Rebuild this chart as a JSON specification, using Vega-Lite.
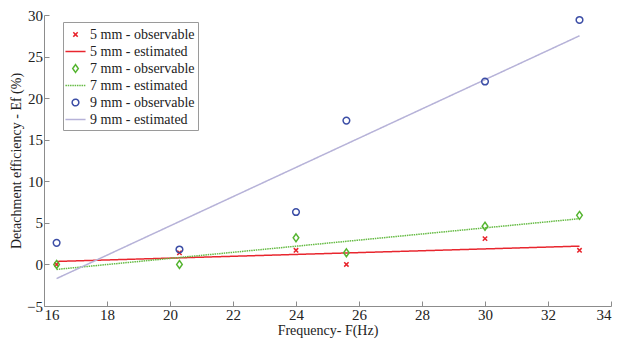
{
  "$schema": "https://vega.github.io/schema/vega-lite/v6.json",
  "width": 567,
  "height": 291,
  "autosize": {"type": "none"},
  "padding": {"left": 44, "top": 15, "right": 16, "bottom": 33},
  "background": "white",
  "config": {
    "view": {"stroke": null},
    "font": "Liberation Serif, Times New Roman, serif",
    "axis": {
      "grid": false,
      "domainColor": "#8c8c8c",
      "tickColor": "#8c8c8c",
      "tickSize": -5,
      "labelFont": "Liberation Serif, Times New Roman, serif",
      "labelFontSize": 15,
      "labelColor": "#222222",
      "titleFont": "Liberation Serif, Times New Roman, serif",
      "titleFontSize": 14,
      "titleFontWeight": "normal",
      "titleColor": "#222222"
    }
  },
  "datasets": {
    "obs": [
      {"series": "5 mm - observable", "freq": 16.4, "ef": 0.0},
      {"series": "5 mm - observable", "freq": 20.3, "ef": 1.4},
      {"series": "5 mm - observable", "freq": 24.0, "ef": 1.7},
      {"series": "5 mm - observable", "freq": 25.6, "ef": 0.0},
      {"series": "5 mm - observable", "freq": 30.0, "ef": 3.1},
      {"series": "5 mm - observable", "freq": 33.0, "ef": 1.7},
      {"series": "7 mm - observable", "freq": 16.4, "ef": 0.0},
      {"series": "7 mm - observable", "freq": 20.3, "ef": 0.0},
      {"series": "7 mm - observable", "freq": 24.0, "ef": 3.2},
      {"series": "7 mm - observable", "freq": 25.6, "ef": 1.4},
      {"series": "7 mm - observable", "freq": 30.0, "ef": 4.6},
      {"series": "7 mm - observable", "freq": 33.0, "ef": 5.9},
      {"series": "9 mm - observable", "freq": 16.4, "ef": 2.6},
      {"series": "9 mm - observable", "freq": 20.3, "ef": 1.8},
      {"series": "9 mm - observable", "freq": 24.0, "ef": 6.3},
      {"series": "9 mm - observable", "freq": 25.6, "ef": 17.3},
      {"series": "9 mm - observable", "freq": 30.0, "ef": 22.0},
      {"series": "9 mm - observable", "freq": 33.0, "ef": 29.4}
    ],
    "est": [
      {"series": "5 mm - estimated", "freq": 16.4, "ef": 0.36},
      {"series": "5 mm - estimated", "freq": 33.0, "ef": 2.2},
      {"series": "7 mm - estimated", "freq": 16.4, "ef": -0.6},
      {"series": "7 mm - estimated", "freq": 33.0, "ef": 5.5},
      {"series": "9 mm - estimated", "freq": 16.4, "ef": -1.7},
      {"series": "9 mm - estimated", "freq": 33.0, "ef": 27.5}
    ]
  },
  "layer": [
    {
      "data": {"name": "est"},
      "mark": {"type": "line", "strokeWidth": 1.5},
      "encoding": {
        "x": {"field": "freq", "type": "quantitative"},
        "y": {"field": "ef", "type": "quantitative"},
        "color": {"field": "series", "type": "nominal"},
        "strokeDash": {
          "field": "series", "type": "nominal",
          "scale": {
            "domain": ["5 mm - observable", "5 mm - estimated", "7 mm - observable", "7 mm - estimated", "9 mm - observable", "9 mm - estimated"],
            "range": [[1, 0], [1, 0], [1, 0], [1.5, 0.8], [1, 0], [1, 0]]
          }
        }
      }
    },
    {
      "data": {"name": "obs"},
      "mark": {"type": "point", "filled": false, "size": 306, "strokeWidth": 1.5, "opacity": 1},
      "encoding": {
        "x": {
          "field": "freq", "type": "quantitative",
          "scale": {"domain": [16, 34], "nice": false, "zero": false},
          "axis": {"values": [16,18,20,22,24,26,28,30,32,34], "title": "Frequency- F(Hz)", "labelPadding": 6.5, "titlePadding": 1}
        },
        "y": {
          "field": "ef", "type": "quantitative",
          "scale": {"domain": [-5, 30], "nice": false, "zero": false},
          "axis": {"values": [-5,0,5,10,15,20,25,30], "title": "Detachment efficiency - Ef (%)", "labelPadding": 6.5, "titlePadding": 3}
        },
        "color": {
          "field": "series", "type": "nominal",
          "scale": {
            "domain": ["5 mm - observable", "5 mm - estimated", "7 mm - observable", "7 mm - estimated", "9 mm - observable", "9 mm - estimated"],
            "range": ["#e8232b", "#e8262e", "#55b530", "#66bb44", "#3c4ea6", "#b6b2d8"]
          },
          "legend": {
            "title": null,
            "orient": "none",
            "legendX": 19,
            "legendY": 7,
            "padding": 3,
            "strokeColor": "#9a9a9a",
            "fillColor": "white",
            "labelFont": "Liberation Serif, Times New Roman, serif",
            "labelFontSize": 14,
            "labelColor": "#222222",
            "symbolSize": 306,
            "symbolStrokeWidth": 1.5,
            "rowPadding": 0,
            "labelOffset": 5
          }
        },
        "shape": {
          "field": "series", "type": "nominal",
          "scale": {
            "domain": ["5 mm - observable", "5 mm - estimated", "7 mm - observable", "7 mm - estimated", "9 mm - observable", "9 mm - estimated"],
            "range": [
              "M-0.25,-0.25L0.25,0.25M0.25,-0.25L-0.25,0.25",
              "M-1.15,0L1.15,0",
              "M0,-0.45L0.32,0L0,0.45L-0.32,0Z",
              "M-1.15,0L1.15,0",
              "M0.38,0A0.38,0.38,0,1,1,-0.38,0A0.38,0.38,0,1,1,0.38,0",
              "M-1.15,0L1.15,0"
            ]
          }
        }
      }
    }
  ],
  "encoding": {}
}
